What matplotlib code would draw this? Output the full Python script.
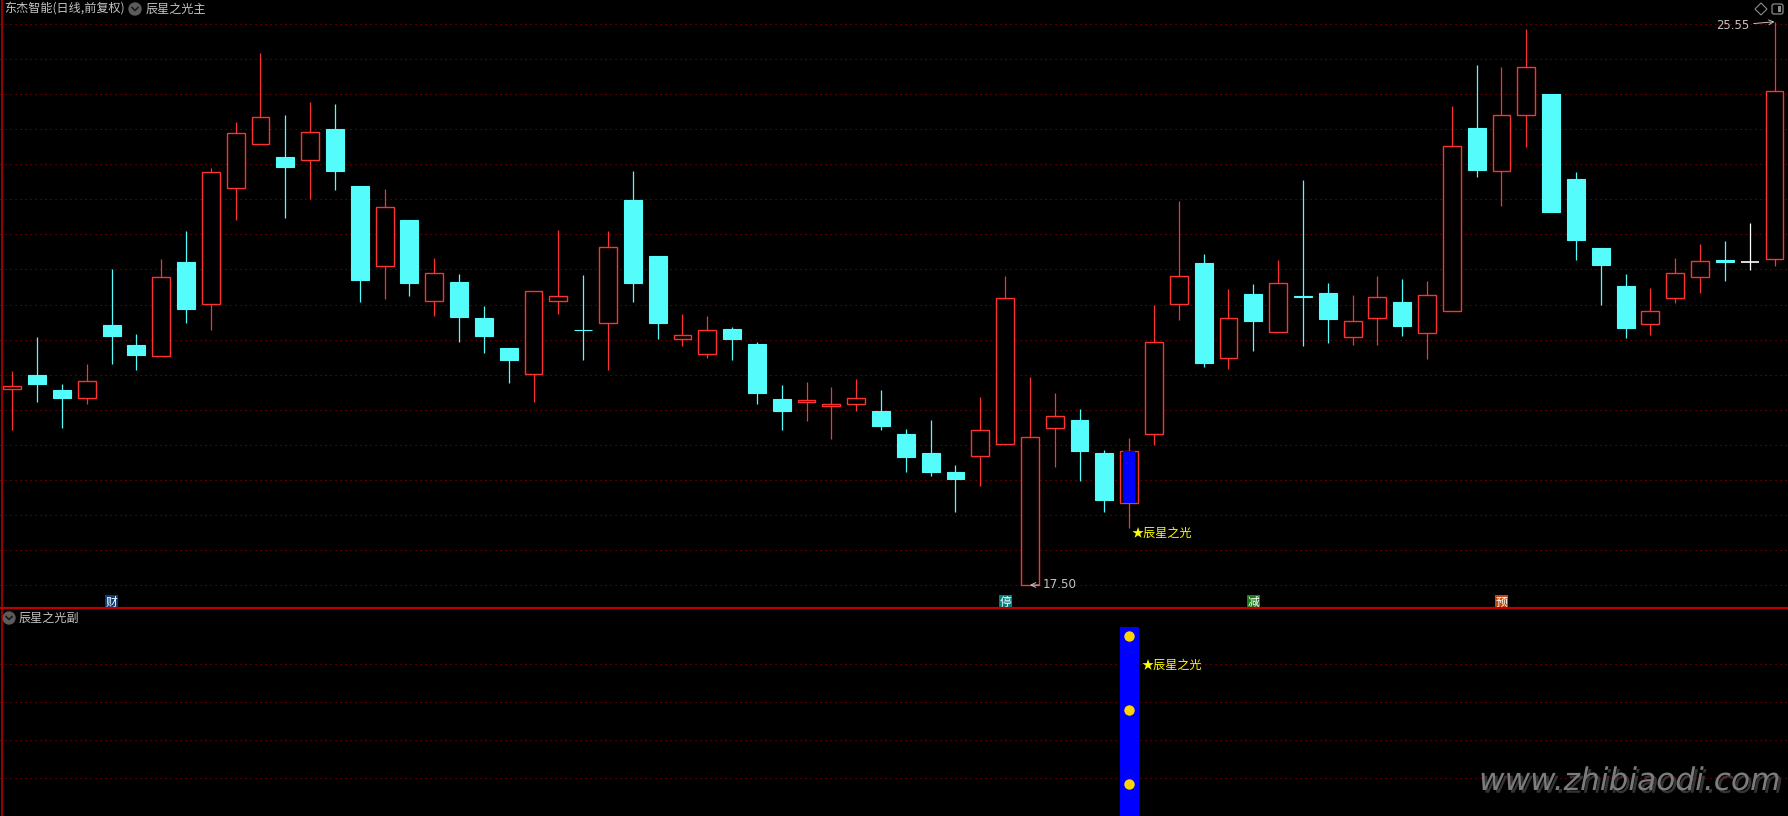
import numpy as np
import matplotlib
matplotlib.use('Agg')
import matplotlib.pyplot as plt
import matplotlib.patheffects as pe
from matplotlib.patches import Circle, Polygon, FancyBboxPatch, Rectangle

plt.rcParams['font.family'] = ['Noto Sans CJK SC', 'DejaVu Sans']

# daily bars (open, high, low, close)
opens = [20.30, 20.50, 20.29, 20.17, 21.22, 20.93, 20.78, 22.12, 21.51, 23.17,
         23.81, 23.62, 23.58, 24.02, 23.21, 22.06, 22.72, 21.56, 21.83, 21.32,
         20.89, 20.51, 21.56, 21.15, 21.24, 23.00, 22.20, 21.01, 20.80, 21.16,
         20.94, 20.16, 20.11, 20.06, 20.08, 19.99, 19.66, 19.39, 19.12, 19.34,
         19.51, 17.50, 19.74, 19.86, 19.38, 18.67, 19.66, 21.51, 22.10, 20.74,
         21.66, 21.11, 21.63, 21.67, 21.04, 21.32, 21.54, 21.10, 21.41, 24.03,
         23.42, 24.22, 24.52, 23.31, 22.31, 21.78, 21.23, 21.60, 21.90, 22.15,
         22.11, 22.16]
highs = [20.56, 21.04, 20.37, 20.66, 22.02, 21.09, 22.16, 22.56, 23.46, 24.12,
         25.11, 24.22, 24.41, 24.37, 23.21, 23.16, 22.72, 22.18, 21.95, 21.49,
         20.89, 21.70, 22.58, 21.93, 22.56, 23.42, 22.20, 21.38, 21.35, 21.19,
         20.98, 20.36, 20.40, 20.33, 20.45, 20.29, 19.73, 19.86, 19.21, 20.18,
         21.92, 20.47, 20.24, 20.01, 19.43, 19.60, 21.50, 22.99, 22.23, 21.73,
         21.80, 22.15, 23.29, 21.81, 21.64, 21.91, 21.88, 21.85, 24.34, 24.93,
         24.91, 25.44, 24.52, 23.40, 22.31, 21.95, 21.75, 22.18, 22.38, 22.41,
         22.68, 25.55]
lows = [19.72, 20.12, 19.75, 20.09, 20.66, 20.57, 20.78, 21.24, 21.14, 22.72,
        23.81, 22.75, 23.01, 23.15, 21.54, 21.59, 21.63, 21.35, 20.98, 20.82,
        20.39, 20.12, 21.37, 20.72, 20.57, 21.54, 21.02, 20.92, 20.74, 20.72,
        20.09, 19.72, 19.85, 19.59, 19.98, 19.72, 19.12, 19.06, 18.55, 18.92,
        19.51, 17.50, 19.19, 18.98, 18.55, 18.32, 19.50, 21.29, 20.62, 20.59,
        20.84, 21.11, 20.92, 20.96, 20.93, 20.93, 21.06, 20.73, 21.41, 23.33,
        22.92, 23.76, 22.83, 22.14, 21.50, 21.03, 21.07, 21.53, 21.67, 21.84,
        22.00, 22.06]
closes = [20.35, 20.38, 20.17, 20.41, 21.06, 20.79, 21.90, 21.44, 23.40, 23.96,
          24.19, 23.47, 23.97, 23.42, 21.86, 22.90, 21.82, 21.96, 21.33, 21.06,
          20.72, 21.70, 21.63, 21.14, 22.33, 21.81, 21.25, 21.07, 21.15, 21.01,
          20.25, 19.99, 20.14, 20.08, 20.17, 19.77, 19.33, 19.12, 19.02, 19.71,
          21.60, 19.61, 19.91, 19.42, 18.72, 19.41, 20.98, 21.91, 20.68, 21.31,
          21.28, 21.81, 21.62, 21.30, 21.27, 21.62, 21.20, 21.64, 23.77, 23.43,
          24.22, 24.91, 22.83, 22.43, 22.08, 21.17, 21.41, 21.96, 22.13, 22.12,
          22.11, 24.56]

signal_idx = [45]               # bar where 辰星之光 fires
sub_top = 1.0                   # sub-panel stick height
sub_dots = [0.95, 0.56, 0.17]   # yellow dots on the stick
flag_idx = [4, 40, 50, 60]
flag_text = ['财', '停', '减', '预']
flag_bg = ['#0b3d7a', '#008080', '#1d7a1d', '#c0480e']

RED = '#ff3232'
CYAN = '#54fcfc'
GRID = '#a00000'
GRAY = '#c4c4c4'

W, H = 1788, 816
fig = plt.figure(figsize=(W / 100, H / 100), dpi=100, facecolor='black')

o = np.array(opens)
h = np.array(highs)
l = np.array(lows)
c = np.array(closes)
x = np.arange(len(o))
k = 0.014293  # price per pixel

ax = fig.add_axes([0, 208 / H, 1, 608 / H], facecolor='black')
ax.set_xlim(-12.3 / 24.82, (W - 12.3) / 24.82)
ax.set_ylim(17.50 - 23 * k, 17.50 + 585 * k)
ax.axis('off')

for g in np.linspace(17.50, 17.50 + 16 * 35.06 * k, 17):
    ax.axhline(g, color=GRID, lw=0.8, ls=(0, (1, 3.5)), zorder=0)

up = c > o
dn = c < o
fl = c == o
wcol = np.where(up, RED, np.where(dn, CYAN, 'white'))
ax.vlines(x, l, h, colors=wcol, lw=0.9, zorder=2)
ax.bar(x[up], (c - o)[up], bottom=o[up], width=0.72, facecolor='black',
       edgecolor=RED, lw=1.0, zorder=3)
ax.bar(x[dn], (o - c)[dn], bottom=c[dn], width=0.72, facecolor=CYAN,
       edgecolor=CYAN, lw=0.8, zorder=3)
ax.hlines(o[fl], x[fl] - 0.37, x[fl] + 0.37, colors='white', lw=1.2, zorder=3)

for i in signal_idx:
    ax.bar(i, abs(c[i] - o[i]), bottom=min(o[i], c[i]), width=0.5,
           color='#0000ff', lw=0, zorder=4)
    ax.text(i + 0.1, l[i] + 0.01, '★辰星之光', color='#ffff00', fontsize=8.7,
            ha='left', va='top', zorder=5)

# max / min markers
imax = int(np.argmax(h))
imin = int(np.argmin(l))
ax.annotate('%.2f' % h[imax], xy=(imax, h[imax]), xytext=(-18, -2.5),
            textcoords='offset points', color=GRAY, fontsize=8.4, ha='right',
            va='center', family='DejaVu Sans',
            arrowprops=dict(arrowstyle='->', color=GRAY, lw=0.7,
                            shrinkA=1, shrinkB=0))
ax.annotate('%.2f' % l[imin], xy=(imin, l[imin]), xytext=(9.5, 0),
            textcoords='offset points', color=GRAY, fontsize=8.6, ha='left',
            va='center', family='DejaVu Sans',
            arrowprops=dict(arrowstyle='->', color=GRAY, lw=0.7,
                            shrinkA=1, shrinkB=0))

for i, t, bg in zip(flag_idx, flag_text, flag_bg):
    ax.text(i, 17.50 - 17 * k, t, color='white', fontsize=8.5, ha='center',
            va='center', zorder=5,
            bbox=dict(boxstyle='square,pad=0.05', fc=bg, ec='none'))

# sub panel
ax2 = fig.add_axes([0, 0, 1, 207 / H], facecolor='black')
ax2.set_xlim(ax.get_xlim())
ax2.set_ylim(0, 207 / 189.5)
ax2.axis('off')
for g in [0.2, 0.4, 0.6, 0.8]:
    ax2.axhline(g, color=GRID, lw=0.8, ls=(0, (1, 3.5)), zorder=0)
for i in signal_idx:
    ax2.bar(i, sub_top, width=0.77, color='#0000ff', lw=0, zorder=2)
    ax2.plot([i] * len(sub_dots), sub_dots, 'o', color='#ffd400', ms=7.5,
             mec='none', zorder=3)
    ax2.text(i + 0.48, 0.795, '★辰星之光', color='#ffff00', fontsize=8.7,
             ha='left', va='center', zorder=4)

# overlay in pixel units for frame, titles and icons
ov = fig.add_axes([0, 0, 1, 1], facecolor='none')
ov.set_xlim(0, W)
ov.set_ylim(H, 0)
ov.axis('off')
ov.plot([1.5, 1.5], [0, H], color='#b00000', lw=1.2)
ov.plot([0, W], [608, 608], color='#c00000', lw=1.6)


def chevron_icon(cx, cy):
    ov.add_patch(Circle((cx, cy), 6, color='#5c5c5c'))
    ov.plot([cx - 3, cx, cx + 3], [cy - 1.5, cy + 1.5, cy - 1.5],
            color='#1a1a1a', lw=1.2)


ov.text(4, 9, '东杰智能(日线,前复权)', color=GRAY, fontsize=8.7, va='center')
chevron_icon(135, 9)
ov.text(146, 9, '辰星之光主', color=GRAY, fontsize=8.7, va='center')
chevron_icon(9, 618)
ov.text(19, 618, '辰星之光副', color=GRAY, fontsize=8.7, va='center')

ov.add_patch(Polygon([[1761, 3], [1767, 9], [1761, 15], [1755, 9]],
                     closed=True, fill=False, ec='#8a8a8a', lw=0.8))
ov.add_patch(FancyBboxPatch((1772, 4), 11, 10, boxstyle='round,pad=0,rounding_size=2',
                            fill=False, ec='#8a8a8a', lw=0.9))
ov.add_patch(Rectangle((1778, 6), 3, 6, color='#8a8a8a', lw=0))

ov.text(1780, 790, 'www.zhibiaodi.com', color='#7c7c7c', fontsize=22.5,
        family='DejaVu Sans', style='oblique', ha='right', va='baseline',
        path_effects=[pe.SimplePatchShadow(offset=(2, -2), shadow_rgbFace='#333333',
                                           alpha=1.0), pe.Normal()])

fig.savefig('out.png', dpi=100, facecolor='black')
